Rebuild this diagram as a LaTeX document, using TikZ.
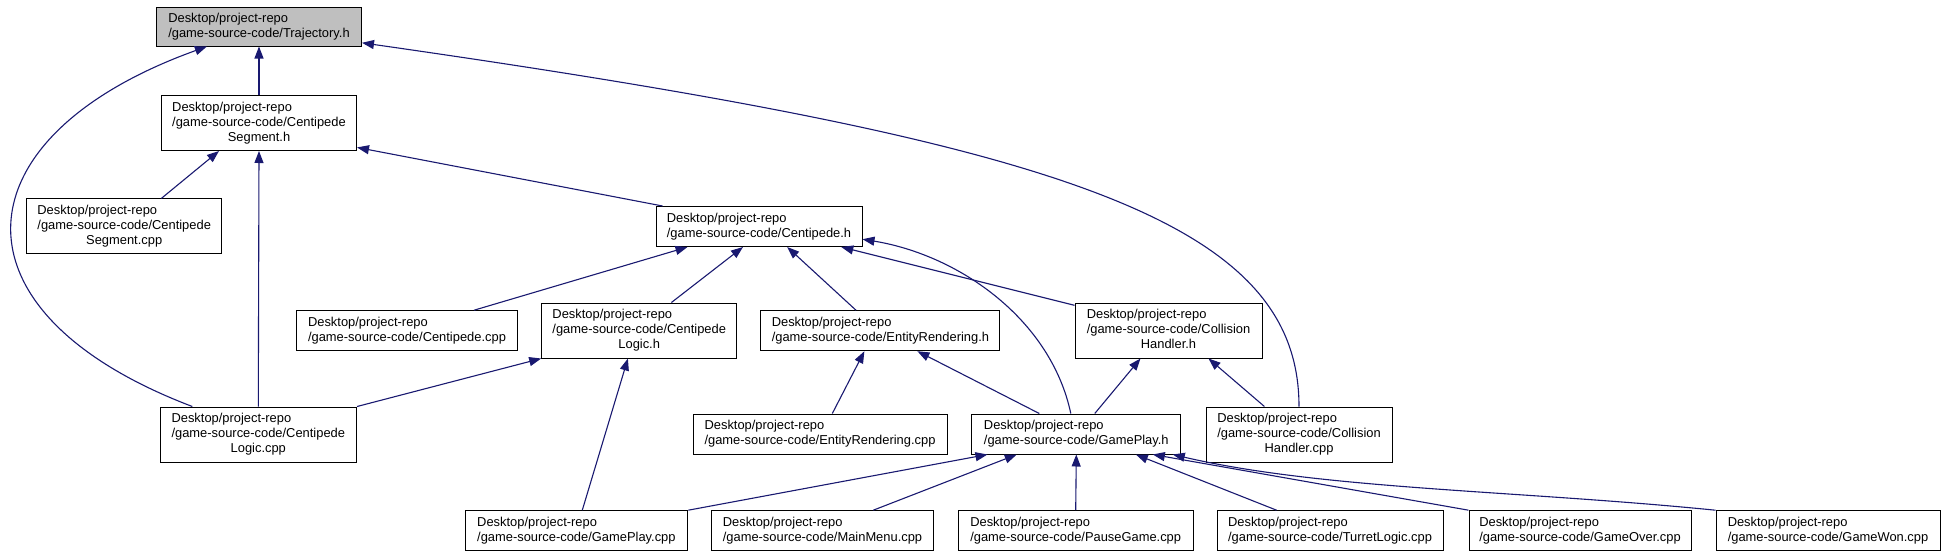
\documentclass[tikz,border=0pt]{standalone}
\usepackage{fontspec}
\setmainfont{Liberation Sans}
\usepackage{tikz}
\usetikzlibrary{arrows.meta}
\definecolor{edgeblue}{RGB}{25,25,112}
\definecolor{curgray}{RGB}{191,191,191}
\newcommand{\twoln}[2]{\begin{tabular}{@{}l@{}}#1\\#2\end{tabular}}
\newcommand{\threeln}[3]{\begin{tabular}{@{}l@{}}#1\\#2\\\multicolumn{1}{@{}c@{}}{#3}\end{tabular}}

\begin{document}
\begin{tikzpicture}[x=1pt, y=-1pt,
    file/.style={draw=black, line width=1pt, fill=white, inner sep=0pt, minimum height=40pt, font=\fontsize{12.9}{15}\selectfont},
    tall/.style={minimum height=55pt},
    edge/.style={edgeblue, line width=1.1pt, -{Triangle[length=12pt,width=9pt]}}]
    \useasboundingbox (0,0) rectangle (1946,557);

    % headers
    \node[file, fill=curgray, minimum width=205pt, minimum height=39pt] (traj) at (259,26.5) {\twoln{Desktop/project-repo}{/game-source-code/Trajectory.h}};
    \node[file, tall, minimum width=195pt] (segh) at (259,123) {\threeln{Desktop/project-repo}{/game-source-code/Centipede}{Segment.h}};
    \node[file, tall, minimum width=195pt] (segcpp) at (124.2,226.4) {\threeln{Desktop/project-repo}{/game-source-code/Centipede}{Segment.cpp}};
    \node[file, minimum width=206pt] (centh) at (759,226.5) {\twoln{Desktop/project-repo}{/game-source-code/Centipede.h}};

    % middle row
    \node[file, minimum width=221pt] (centcpp) at (407,330.7) {\twoln{Desktop/project-repo}{/game-source-code/Centipede.cpp}};
    \node[file, tall, minimum width=195pt] (logich) at (639.2,330.5) {\threeln{Desktop/project-repo}{/game-source-code/Centipede}{Logic.h}};
    \node[file, minimum width=239pt] (erh) at (880.4,330.7) {\twoln{Desktop/project-repo}{/game-source-code/EntityRendering.h}};
    \node[file, tall, minimum width=187pt] (collh) at (1168.5,330.5) {\threeln{Desktop/project-repo}{/game-source-code/Collision}{Handler.h}};

    \node[file, tall, minimum width=196.5pt] (logiccpp) at (258.3,434.5) {\threeln{Desktop/project-repo}{/game-source-code/Centipede}{Logic.cpp}};
    \node[file, minimum width=254pt] (ercpp) at (820,434) {\twoln{Desktop/project-repo}{/game-source-code/EntityRendering.cpp}};
    \node[file, minimum width=209pt] (gph) at (1076.3,434) {\twoln{Desktop/project-repo}{/game-source-code/GamePlay.h}};
    \node[file, tall, minimum width=186pt] (collcpp) at (1299,434.5) {\threeln{Desktop/project-repo}{/game-source-code/Collision}{Handler.cpp}};

    % bottom row
    \node[file, minimum width=222.7pt] (gpcpp) at (576.4,530.7) {\twoln{Desktop/project-repo}{/game-source-code/GamePlay.cpp}};
    \node[file, minimum width=222pt] (menu) at (822.5,530.7) {\twoln{Desktop/project-repo}{/game-source-code/MainMenu.cpp}};
    \node[file, minimum width=234.7pt] (pause) at (1075.7,530.7) {\twoln{Desktop/project-repo}{/game-source-code/PauseGame.cpp}};
    \node[file, minimum width=226pt] (turret) at (1330,530.7) {\twoln{Desktop/project-repo}{/game-source-code/TurretLogic.cpp}};
    \node[file, minimum width=222pt] (over) at (1580,530.7) {\twoln{Desktop/project-repo}{/game-source-code/GameOver.cpp}};
    \node[file, minimum width=224pt] (won) at (1828,530.7) {\twoln{Desktop/project-repo}{/game-source-code/GameWon.cpp}};

    % includes of Trajectory.h
    \draw[edge] (segh.north) -- (traj.south);
    \draw[edge] (logiccpp.157) .. controls +(-250,-95) and +(-250,90) .. (traj.-159);
    \draw[edge] (collcpp.north) .. controls +(0,-187) and +(700,100) .. (traj.-9);

    % includes of CentipedeSegment.h
    \draw[edge] (segcpp.37) -- (segh.-145);
    \draw[edge] (logiccpp.north) -- (segh.south);
    \draw[edge] (centh.168) -- (segh.-14);

    % includes of Centipede.h
    \draw[edge] (centcpp.17) -- (centh.-164);
    \draw[edge] (logich.41) -- (centh.-128);
    \draw[edge] (erh.140) -- (centh.-36);
    \draw[edge] (collh.165) -- (centh.-14);
    \draw[edge] (gph.105) .. controls +(-20,-94) and +(97,16) .. (centh.-7);

    % includes of CentipedeLogic.h, EntityRendering.h, CollisionHandler.h
    \draw[edge] (logiccpp.north east) -- (logich.south west);
    \draw[edge] (gpcpp.74) -- (logich.-112);
    \draw[edge] (ercpp.59) -- (erh.-128);
    \draw[edge] (gph.151) -- (erh.-29);
    \draw[edge] (gph.48) -- (collh.-135);
    \draw[edge] (collcpp.141) -- (collh.-35);

    % includes of GamePlay.h
    \draw[edge] (gpcpp.north east) -- (gph.-167);
    \draw[edge] (menu.22) -- (gph.-161);
    \draw[edge] (pause.north) -- (gph.south);
    \draw[edge] (turret.159) -- (gph.-19);
    \draw[edge] (over.north west) -- (gph.-15);
    \draw[edge] (won.north west) .. controls +(-200,-20) and +(150,35) .. (gph.-12);
\end{tikzpicture}
\end{document}
